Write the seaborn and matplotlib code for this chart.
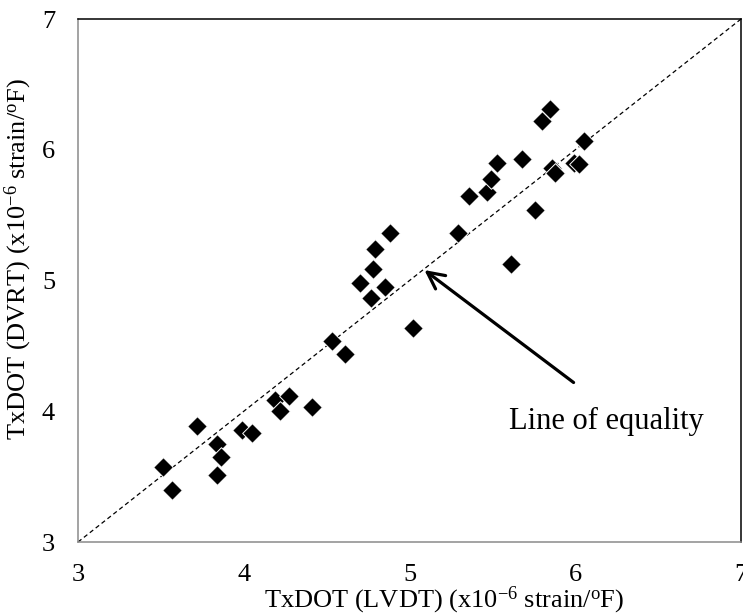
import matplotlib
matplotlib.use("Agg")
import matplotlib.pyplot as plt
import seaborn as sns
import pandas as pd

# Thermal coefficient measured by LVDT (x) vs DVRT (y), x10^-6 strain/degF
lvdt = [3.51, 3.57, 3.72, 3.84, 3.86, 3.84, 3.99, 4.05, 4.19, 4.22, 4.27, 4.41,
        4.53, 4.61, 4.70, 4.77, 4.78, 4.79, 4.85, 4.88, 5.02, 5.29, 5.36, 5.47,
        5.49, 5.53, 5.61, 5.68, 5.76, 5.80, 5.85, 5.86, 5.88, 5.99, 6.02, 6.05]
dvrt = [3.57, 3.40, 3.89, 3.75, 3.65, 3.51, 3.86, 3.83, 4.09, 4.00, 4.12, 4.03,
        4.54, 4.44, 4.98, 4.87, 5.09, 5.24, 4.95, 5.36, 4.64, 5.36, 5.65, 5.68,
        5.78, 5.90, 5.13, 5.93, 5.54, 6.22, 6.31, 5.86, 5.82, 5.90, 5.89, 6.07]

equality_x = [3, 7]
equality_y = [3, 7]
ticks = [3, 4, 5, 6, 7]
tick_labels = ["3", "4", "5", "6", "7"]

sns.set_theme(style="white")
plt.rcParams["font.family"] = ["Liberation Serif", "DejaVu Serif"]
plt.rcParams["mathtext.fontset"] = "custom"
plt.rcParams["mathtext.rm"] = "Liberation Serif"
plt.rcParams["mathtext.it"] = "Liberation Serif:italic"

df = pd.DataFrame({"lvdt": lvdt, "dvrt": dvrt})
line_df = pd.DataFrame({"x": equality_x, "y": equality_y})

fig = plt.figure(figsize=(7.43, 6.16), dpi=100)
ax = fig.add_axes([0.105, 0.1201, 0.8923, 0.849])

sns.lineplot(data=line_df, x="x", y="y", ax=ax, color="black", lw=0.9,
             linestyle=(0, (3.5, 2.5)), zorder=2)
sns.scatterplot(data=df, x="lvdt", y="dvrt", ax=ax, marker="D", s=100,
                color="black", edgecolor="white", linewidth=0.7, zorder=3)

ax.set_xlim(3, 7)
ax.set_ylim(3, 7)
ax.set_xticks(ticks)
ax.set_xticklabels(tick_labels)
ax.set_yticks(ticks)
ax.set_yticklabels(tick_labels)
ax.tick_params(axis="both", length=0, labelsize=19, colors="black")
ax.tick_params(axis="y", pad=16.5)
ax.tick_params(axis="x", pad=15.5)

ax.set_xlabel(r"TxDOT (LVDT) (x10$^{\mathrm{-6}}$ strain/$^{\mathrm{o}}$F)",
              fontsize=19, color="black")
ax.set_ylabel(r"TxDOT (DVRT) (x10$^{\mathrm{-6}}$ strain/$^{\mathrm{o}}$F)",
              fontsize=19, color="black")
ax.xaxis.set_label_coords(0.552, -0.082)
ax.yaxis.set_label_coords(-0.066, 0.54)

for side in ["left", "bottom"]:
    ax.spines[side].set_color("#8a8a8a")
    ax.spines[side].set_linewidth(1.1)
for side in ["top", "right"]:
    ax.spines[side].set_color("black")
    ax.spines[side].set_linewidth(1.1)

ax.annotate("", xy=(5.09, 5.08), xytext=(5.99, 4.22),
            arrowprops=dict(arrowstyle="->", color="black", lw=2.3,
                            mutation_scale=30, shrinkA=0, shrinkB=0))
ax.text(6.19, 3.92, "Line of equality", fontsize=22, ha="center", va="center",
        color="black")

fig.savefig("out.png", dpi=100)
